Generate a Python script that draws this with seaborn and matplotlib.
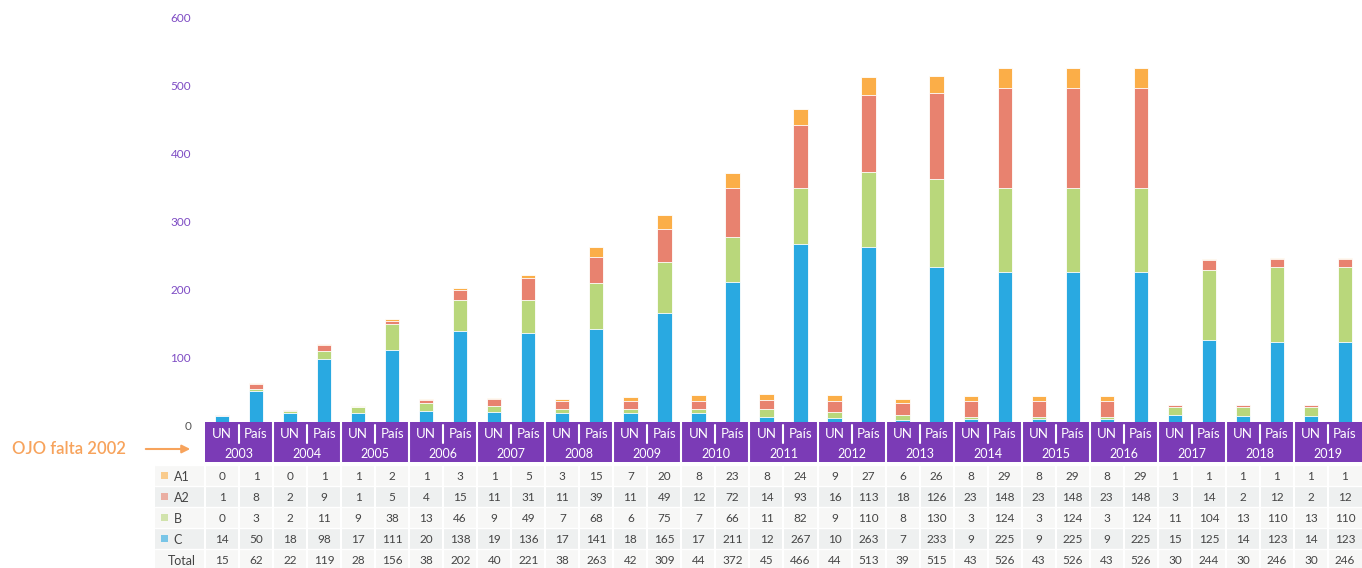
import pandas as pd
import matplotlib.pyplot as plt
import seaborn as sns
from matplotlib.patches import Rectangle

# data
years = list(range(2003, 2020))
a1_un = [0, 0, 1, 1, 1, 3, 7, 8, 8, 9, 6, 8, 8, 8, 1, 1, 1]
a1_pais = [1, 1, 2, 3, 5, 15, 20, 23, 24, 27, 26, 29, 29, 29, 1, 1, 1]
a2_un = [1, 2, 1, 4, 11, 11, 11, 12, 14, 16, 18, 23, 23, 23, 3, 2, 2]
a2_pais = [8, 9, 5, 15, 31, 39, 49, 72, 93, 113, 126, 148, 148, 148, 14, 12, 12]
b_un = [0, 2, 9, 13, 9, 7, 6, 7, 11, 9, 8, 3, 3, 3, 11, 13, 13]
b_pais = [3, 11, 38, 46, 49, 68, 75, 66, 82, 110, 130, 124, 124, 124, 104, 110, 110]
c_un = [14, 18, 17, 20, 19, 17, 18, 17, 12, 10, 7, 9, 9, 9, 15, 14, 14]
c_pais = [50, 98, 111, 138, 136, 141, 165, 211, 267, 263, 233, 225, 225, 225, 125, 123, 123]
total_un = [15, 22, 28, 38, 40, 38, 42, 44, 45, 44, 39, 43, 43, 43, 30, 30, 30]
total_pais = [62, 119, 156, 202, 221, 263, 309, 372, 466, 513, 515, 526, 526, 526, 244, 246, 246]
groups = ["UN", "País"]
series = ["A1", "A2", "B", "C"]
colors = {"A1": "#FBAE48", "A2": "#E8826F", "B": "#B9D77B", "C": "#29A9E1"}

purple = "#7B3BB6"

# interleave UN / País columns
cols, a1, a2, b, c, tot = [], [], [], [], [], []
for i, y in enumerate(years):
    for g, va1, va2, vb, vc, vt in ((groups[0], a1_un, a2_un, b_un, c_un, total_un),
                                     (groups[1], a1_pais, a2_pais, b_pais, c_pais, total_pais)):
        cols.append(f"{y} {g}")
        a1.append(va1[i])
        a2.append(va2[i])
        b.append(vb[i])
        c.append(vc[i])
        tot.append(vt[i])

df = pd.DataFrame({"col": cols, "A1": a1, "A2": a2, "B": b, "C": c, "Total": tot})
df["c_C"] = df["C"]
df["c_B"] = df["c_C"] + df["B"]
df["c_A2"] = df["c_B"] + df["A2"]
df["c_A1"] = df["c_A2"] + df["A1"]

sns.set_style("white")
plt.rcParams["font.family"] = ["Lato", "DejaVu Sans"]

fig = plt.figure(figsize=(13.62, 5.68), dpi=100)
W, H = 1362, 568
ax = fig.add_axes([205 / W, 1 - 425 / H, 1157 / W, (425 - 18) / H])

# stacked bars: draw cumulative heights from the top down
for s in ["A1", "A2", "B", "C"]:
    sns.barplot(data=df, x="col", y="c_" + s, order=cols, color=colors[s],
                width=0.42, edgecolor="white", linewidth=0.6, saturation=1, ax=ax)

n = len(cols)
ax.set_xlim(-0.5, n - 0.5)
ax.set_ylim(0, 600)
ax.set_xticks([])
ax.set_xlabel("")
ax.set_ylabel("")
ax.set_yticks(range(0, 601, 100))
ax.tick_params(axis="y", length=0, pad=10, labelsize=8.5, labelcolor="#7E4CC4")
ax.get_yticklabels()[0].set_color("#555555")
sns.despine(ax=ax, left=True, bottom=True)

# header + table underneath, y in pixel units
lab_w = 50 / 34.03
tax = fig.add_axes([155 / W, 0, (W - 155) / W, (H - 422) / H])
tax.set_xlim(-0.5 - lab_w, n - 0.5)
tax.set_ylim(H, 422)
tax.axis("off")

tax.add_patch(Rectangle((-0.5, 422), n, 40, color=purple, lw=0))
for i in range(n):
    tax.text(i, 433.5, cols[i].split(" ")[1], color="white", ha="center", va="center", fontsize=9.5)
    if i > 0:
        if i % 2 == 0:
            tax.plot([i - 0.5, i - 0.5], [422, 462], color="white", lw=1.5)
        else:
            tax.plot([i - 0.5, i - 0.5], [425, 443], color="white", lw=1.5)
for k, y in enumerate(years):
    tax.text(2 * k + 0.5, 453.5, str(y), color="white", ha="center", va="center", fontsize=9)

row_names = series + ["Total"]
row_bg = ["#f7f7f6", "#eef0f0", "#f7f7f6", "#eef0f0", "#f7f7f6"]
row_h = 21
for r, name in enumerate(row_names):
    top = 465 + r * row_h
    tax.add_patch(Rectangle((-0.5 - lab_w, top), n + lab_w, row_h, color=row_bg[r], lw=0))
    vals = df[name].tolist()
    for i in range(n):
        tax.text(i, top + row_h / 2 + 1, str(vals[i]), ha="center", va="center",
                 fontsize=8.5, color="#444444")
    if name == "Total":
        tax.text(-0.5 - lab_w / 2 + 0.05, top + row_h / 2 + 1, name, ha="center", va="center",
                 fontsize=9, color="#444444")
    else:
        tax.add_patch(Rectangle((-0.5 - lab_w + 0.17, top + 7), 0.2, 7, color=colors[name],
                                alpha=0.6, lw=0))
        tax.text(-0.5 - lab_w + 0.55, top + row_h / 2 + 1, name, ha="left", va="center",
                 fontsize=9, color="#444444")
    tax.plot([-0.5 - lab_w, n - 0.5], [top, top], color="white", lw=1)
for i in range(n):
    tax.plot([i - 0.5, i - 0.5], [465, H], color="white", lw=1.5)

# note on the left
fig.text(12 / W, 1 - 449 / H, "OJO falta 2002", color="#F7A35C", fontsize=12,
         fontweight="semibold", va="center", ha="left")
fig.patches.append(plt.matplotlib.patches.FancyArrowPatch(
    (143, H - 449), (193, H - 449), transform=None, arrowstyle="-|>",
    mutation_scale=12, color="#F7A35C", lw=1.5))

fig.savefig("out.png", dpi=100)
